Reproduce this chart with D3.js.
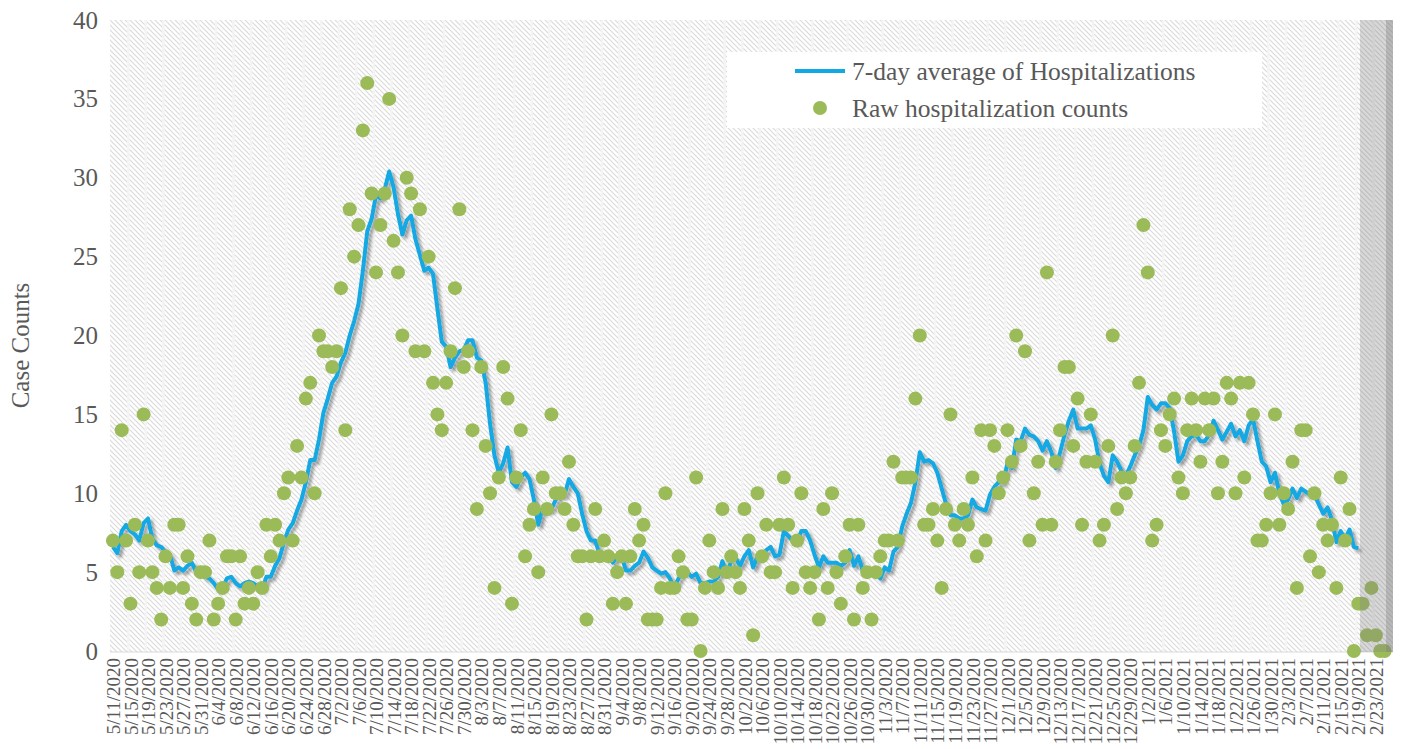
<!DOCTYPE html>
<html>
<head>
<meta charset="utf-8">
<title>hospitalizations</title>
<script src="https://cdn.jsdelivr.net/npm/d3@7"></script>
<style>
  body { margin: 0; background: #fff; }
  text { font-family: "Liberation Serif", "Times New Roman", serif; fill: #595959; }
</style>
</head>
<body>
<div id="chart"></div>
<script>
const W = 1403, H = 749;

// first day of the series, one value per day after it
const startDate = new Date(2020, 4, 11);

// raw daily hospitalization counts (5/11/2020 .. 2/25/2021)
const rawCounts = [
  7,5,14,7,3,8,5,15,7,5,
  4,2,6,4,8,8,4,6,3,2,
  5,5,7,2,3,4,6,6,2,6,
  3,4,3,5,4,8,6,8,7,10,
  11,7,13,11,16,17,10,20,19,19,
  18,19,23,14,28,25,27,33,36,29,
  24,27,29,35,26,24,20,30,29,19,
  28,19,25,17,15,14,17,19,23,28,
  18,19,14,9,18,13,10,4,11,18,
  16,3,11,14,6,8,9,5,11,9,
  15,10,10,9,12,8,6,6,2,6,
  9,6,7,6,3,5,6,3,6,9,
  7,8,2,2,2,4,10,4,4,6,
  5,2,2,11,0,4,7,5,4,9,
  5,6,5,4,9,7,1,10,6,8,
  5,5,8,11,8,4,7,10,5,4,
  5,2,9,4,10,5,3,6,8,2,
  8,4,5,2,5,6,7,7,12,7,
  11,11,11,16,20,8,8,9,7,4,
  9,15,8,7,9,8,11,6,14,7,
  14,13,10,11,14,12,20,13,19,7,
  10,12,8,24,8,12,14,18,18,13,
  16,8,12,15,12,7,8,13,20,9,
  11,10,11,13,17,27,24,7,8,14,
  13,15,16,11,10,14,16,14,12,16,
  14,16,10,12,17,16,10,17,11,17,
  15,7,7,8,10,15,8,10,9,12,
  4,14,14,6,10,5,8,7,8,4,
  11,7,9,0,3,3,1,4,1,0,
  0
];

// 7-day average line (5/11/2020 .. 2/19/2021)
const avgCounts = [
  6.6,6.2,7.6,8.0,7.6,7.4,7.0,8.1,8.4,7.1,
  6.7,6.6,6.3,6.1,5.1,5.3,5.1,5.4,5.6,5.0,
  5.1,4.7,4.6,4.3,3.9,4.0,4.6,4.7,4.3,4.1,
  4.3,4.4,4.3,4.1,3.9,4.7,4.7,5.4,5.9,6.9,
  7.7,8.1,8.9,9.6,10.7,12.1,12.1,13.4,15.1,16.0,
  17.0,17.4,18.3,18.9,20.0,20.9,22.0,24.1,26.6,27.4,
  28.9,28.7,29.3,30.4,29.4,27.7,26.4,27.3,27.6,26.1,
  25.1,24.1,24.3,23.9,21.7,19.6,19.3,18.0,18.6,19.0,
  19.1,19.7,19.7,18.6,18.4,17.0,14.4,12.4,11.3,11.9,
  12.9,10.7,10.4,11.0,11.3,10.9,9.6,8.0,9.1,8.9,
  9.0,9.6,9.9,9.9,10.9,10.4,10.0,8.7,7.6,7.0,
  7.0,6.1,6.0,6.0,5.6,6.0,6.0,5.1,5.1,5.4,
  5.6,6.3,5.9,5.3,5.1,4.9,5.0,4.6,4.0,4.6,
  5.0,5.0,4.7,4.9,4.3,4.3,4.4,4.4,4.7,5.7,
  4.9,5.7,5.9,5.4,6.0,6.4,5.3,6.0,6.0,6.4,
  6.6,6.0,6.1,7.6,7.3,7.0,6.9,7.6,7.6,7.0,
  6.1,5.3,6.0,5.6,5.6,5.6,5.4,5.6,6.4,5.4,
  6.0,5.1,5.1,5.0,4.9,4.6,5.3,5.1,6.3,6.6,
  7.9,8.7,9.4,10.7,12.6,12.0,12.1,11.9,11.3,10.3,
  9.3,8.6,8.6,8.4,8.4,8.6,9.6,9.1,9.0,8.9,
  9.9,10.4,10.7,10.7,11.9,11.6,13.4,13.3,14.1,13.7,
  13.6,13.3,12.7,13.3,12.6,11.6,12.6,13.7,14.6,15.3,
  14.1,14.1,14.1,14.3,13.4,11.9,11.1,10.7,12.4,12.0,
  11.4,11.1,11.7,12.4,13.0,14.0,16.1,15.6,15.3,15.7,
  15.7,15.4,13.9,12.0,12.4,13.3,13.6,13.7,13.3,13.3,
  13.7,14.6,14.0,13.4,13.9,14.4,13.6,14.0,13.3,14.3,
  14.7,13.3,12.0,11.7,10.7,11.3,10.0,9.3,9.6,10.3,
  9.7,10.3,10.1,9.9,9.9,9.3,8.7,9.1,8.3,6.9,
  7.6,7.1,7.7,6.6,6.5
];

const yTicks = [0, 5, 10, 15, 20, 25, 30, 35, 40];
const tickEvery = 4;          // a date label every 4 days
const shadedFrom = 284.4;     // day index where the grey band starts
const legendLabels = ['7-day average of Hospitalizations', 'Raw hospitalization counts'];

const lineColor = '#12a8e3';
const dotColor = '#9bbb59';

const dates = rawCounts.map((d, i) => d3.timeDay.offset(startDate, i));
const raw = rawCounts.map((v, i) => ({date: dates[i], v: v}));
const avg = avgCounts.map((v, i) => ({date: dates[i], v: v}));
const tickDates = dates.filter((d, i) => i % tickEvery === 0);

const plot = {left: 110, right: 1393, top: 20, bottom: 651};

const x = d3.scaleTime()
  .domain([d3.timeHour.offset(startDate, -16), d3.timeHour.offset(startDate, Math.round(291.9 * 24))])
  .range([plot.left, plot.right]);
const y = d3.scaleLinear().domain([0, 40]).range([plot.bottom, plot.top]);

const svg = d3.select('#chart').append('svg')
  .attr('width', W).attr('height', H);

const defs = svg.append('defs');
const s = 5;
defs.append('pattern')
  .attr('id', 'hatch')
  .attr('patternUnits', 'userSpaceOnUse')
  .attr('width', s).attr('height', s)
  .append('path')
  .attr('d', `M-1,-1L${s+1},${s+1}M-1,${s-1}L1,${s+1}M${s-1},-1L${s+1},1`)
  .attr('stroke', '#dadada')
  .attr('stroke-width', 1.2);

const f = defs.append('filter').attr('id', 'shadow')
  .attr('x', '-5%').attr('y', '-5%').attr('width', '110%').attr('height', '115%');
f.append('feDropShadow')
  .attr('dx', 3).attr('dy', 3).attr('stdDeviation', 1.8)
  .attr('flood-color', '#000').attr('flood-opacity', 0.35);

// plot area background
svg.append('rect')
  .attr('x', plot.left).attr('y', plot.top)
  .attr('width', plot.right - plot.left).attr('height', plot.bottom - plot.top + 1)
  .attr('fill', 'url(#hatch)');

// vertical separators between date groups
svg.append('g').selectAll('line')
  .data(tickDates.slice(1))
  .join('line')
  .attr('x1', d => x(d3.timeHour.offset(d, -12)))
  .attr('x2', d => x(d3.timeHour.offset(d, -12)))
  .attr('y1', plot.top).attr('y2', plot.bottom)
  .attr('stroke', '#f4f4f4').attr('stroke-width', 2.5);

svg.append('line')
  .attr('x1', plot.left).attr('x2', plot.right)
  .attr('y1', plot.bottom + 1).attr('y2', plot.bottom + 1)
  .attr('stroke', '#d9d9d9').attr('stroke-width', 1);

// y axis
const yAxis = svg.append('g')
  .attr('transform', `translate(${plot.left},0)`)
  .call(d3.axisLeft(y).tickValues(yTicks).tickSize(0).tickPadding(12));
yAxis.select('.domain').remove();
yAxis.selectAll('text')
  .style('font-family', '"Liberation Serif", serif')
  .style('font-size', '25px')
  .attr('fill', '#595959');

// x axis
const xAxis = svg.append('g')
  .attr('transform', `translate(0,${plot.bottom})`)
  .call(d3.axisBottom(x).tickValues(tickDates).tickSize(0)
    .tickFormat(d3.timeFormat('%-m/%-d/%Y')));
xAxis.select('.domain').remove();
xAxis.selectAll('text')
  .attr('transform', 'rotate(-90)')
  .attr('x', -7).attr('y', 0).attr('dy', '0.35em')
  .attr('text-anchor', 'end')
  .style('font-family', '"Liberation Serif", serif')
  .style('font-size', '19px')
  .attr('fill', '#595959');

svg.append('text')
  .attr('transform', `translate(29,${(plot.top + plot.bottom) / 2 + 10}) rotate(-90)`)
  .attr('text-anchor', 'middle')
  .style('font-size', '25px')
  .text('Case Counts');

// 7-day average line
const line = d3.line().x(d => x(d.date)).y(d => y(d.v));
svg.append('path')
  .datum(avg)
  .attr('d', line)
  .attr('fill', 'none')
  .attr('stroke', lineColor)
  .attr('stroke-width', 4)
  .attr('stroke-linejoin', 'round')
  .attr('filter', 'url(#shadow)');

// raw counts
svg.append('g').selectAll('circle')
  .data(raw)
  .join('circle')
  .attr('cx', d => x(d.date))
  .attr('cy', d => y(d.v))
  .attr('r', 7)
  .attr('fill', dotColor);

// grey band at the end of the series
const bandX = x(d3.timeHour.offset(startDate, shadedFrom * 24));
svg.append('rect')
  .attr('x', bandX).attr('y', plot.top)
  .attr('width', plot.right - bandX).attr('height', plot.bottom - plot.top + 1)
  .attr('fill', '#7f7f7f').attr('fill-opacity', 0.3);
svg.append('rect')
  .attr('x', plot.right - 7).attr('y', plot.top)
  .attr('width', 7).attr('height', plot.bottom - plot.top + 1)
  .attr('fill', '#7f7f7f').attr('fill-opacity', 0.35);

// legend
const lg = svg.append('g').attr('transform', 'translate(727,52)');
lg.append('rect').attr('width', 535).attr('height', 76).attr('fill', '#fff');
lg.append('line')
  .attr('x1', 68).attr('x2', 118).attr('y1', 19).attr('y2', 19)
  .attr('stroke', lineColor).attr('stroke-width', 4);
lg.append('circle')
  .attr('cx', 93).attr('cy', 56).attr('r', 7).attr('fill', dotColor);
lg.selectAll('text.lbl')
  .data(legendLabels)
  .join('text')
  .attr('class', 'lbl')
  .attr('x', 125)
  .attr('y', (d, i) => 19 + i * 37)
  .attr('dy', '0.35em')
  .style('font-size', '25.5px')
  .text(d => d);
</script>
</body>
</html>
